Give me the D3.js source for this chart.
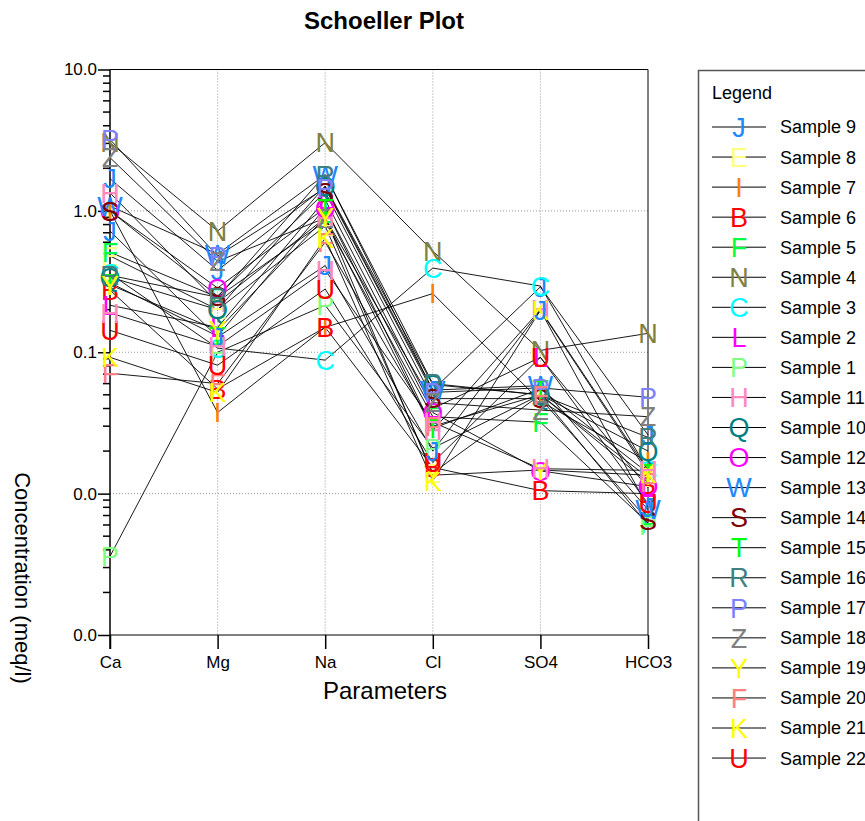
<!DOCTYPE html>
<html>
<head>
<meta charset="utf-8">
<script src="https://cdn.jsdelivr.net/npm/d3@7"></script>
<style>
	body { margin: 0; background: #fff; }
	text { font-family: 'Liberation Sans', Arial, sans-serif; }
</style>
</head>
<body>
<div id="chart"></div>
<script>
	'use strict';

	var params = ['Ca', 'Mg', 'Na', 'Cl', 'SO4', 'HCO3'];

	// samples in the order the legend lists them (last two have no legend row)
	var names = ['Sample 9', 'Sample 8', 'Sample 7', 'Sample 6', 'Sample 5', 'Sample 4',
		'Sample 3', 'Sample 2', 'Sample 1', 'Sample 11', 'Sample 10', 'Sample 12',
		'Sample 13', 'Sample 14', 'Sample 15', 'Sample 16', 'Sample 17', 'Sample 18',
		'Sample 19', 'Sample 20', 'Sample 21', 'Sample 22', 'Sample 23', 'Sample 24'];
	var letters = ['J', 'E', 'I', 'B', 'F', 'N', 'C', 'L', 'P', 'H', 'Q', 'O',
		'W', 'S', 'T', 'R', 'P', 'Z', 'Y', 'F', 'K', 'U', 'J', 'H'];
	var colors = ['#1e88ff', '#ffff80', '#ff8000', '#ff0000', '#00ff40', '#808040',
		'#00ffff', '#ff00ff', '#80ff80', '#ff88c0', '#008080', '#ff00ff',
		'#1e88ff', '#800000', '#00ff00', '#408080', '#8080ff', '#808080',
		'#ffff00', '#ff8080', '#ffff00', '#ff0000', '#1e88ff', '#ff88c0'];
	var legendCount = 22;

	// concentrations, meq/l, one value per sample
	var ca   = [1.69, 0.48, 1.0, 0.275, 0.51, 3.04, 0.36, 0.215, 0.0036, 1.34, 0.34, 1.0,
		1.08, 1.0, 0.31, 0.35, 3.2, 2.38, 0.3, 0.071, 0.092, 0.143, 0.72, 0.19];
	var mg   = [0.38, 0.2, 0.0375, 0.055, 0.245, 0.72, 0.107, 0.15, 0.1, 0.225, 0.2, 0.285,
		0.495, 0.25, 0.13, 0.245, 0.48, 0.44, 0.143, 0.06, 0.052, 0.081, 0.128, 0.11];
	var na   = [1.48, 0.78, 0.15, 0.15, 0.84, 3.04, 0.088, 1.2, 0.215, 0.89, 1.5, 1.05,
		1.8, 1.36, 1.05, 1.8, 1.45, 0.89, 0.9, 0.6, 0.64, 0.28, 0.41, 0.38];
	var cl   = [0.054, 0.014, 0.26, 0.0153, 0.035, 0.52, 0.394, 0.04, 0.021, 0.028, 0.059, 0.0375,
		0.054, 0.047, 0.029, 0.06, 0.052, 0.044, 0.0135, 0.03, 0.0123, 0.0166, 0.02, 0.032];
	var so4  = [0.29, 0.05, 0.045, 0.0105, 0.032, 0.103, 0.294, 0.092, 0.05, 0.2, 0.05, 0.0145,
		0.058, 0.047, 0.055, 0.05, 0.056, 0.039, 0.0147, 0.05, 0.198, 0.092, 0.198, 0.015];
	var hco3 = [0.026, 0.013, 0.0168, 0.01, 0.0062, 0.136, 0.0146, 0.011, 0.006, 0.0146, 0.02, 0.0112,
		0.0077, 0.0065, 0.014, 0.025, 0.048, 0.035, 0.0135, 0.012, 0.014, 0.0085, 0.008, 0.0146];

	var yTicks = [0.001, 0.01, 0.1, 1, 10];

	var width = 865;
	var height = 821;
	var plot = {left: 110, right: 648, top: 69.5, bottom: 635};
	var font = "'Liberation Sans', Arial, sans-serif";

	var columns = [ca, mg, na, cl, so4, hco3];
	var samples = names.map(function (n, i) {
		return {
			name: n,
			letter: letters[i],
			color: colors[i],
			values: columns.map(function (col, k) {
				return {param: params[k], val: col[i]};
			})
		};
	});

	var svg = d3.select('#chart')
		.append('svg')
		.attr('width', width)
		.attr('height', height);

	svg.append('rect')
		.attr('width', width)
		.attr('height', height)
		.attr('fill', '#fff');

	var x = d3.scalePoint()
		.domain(params)
		.range([plot.left, plot.right]);

	var y = d3.scaleLog()
		.domain([0.001, 10])
		.range([plot.bottom, plot.top]);

	// title
	svg.append('text')
		.text('Schoeller Plot')
		.attr('x', 384)
		.attr('y', 29)
		.attr('text-anchor', 'middle')
		.style('font-size', '24px')
		.style('font-weight', 'bold');

	// dotted grid
	var grid = svg.append('g');
	grid.selectAll('line.gy')
		.data(yTicks.slice(1, 4))
		.enter()
		.append('line')
		.attr('x1', plot.left)
		.attr('x2', plot.right)
		.attr('y1', function (d) { return y(d); })
		.attr('y2', function (d) { return y(d); })
		.attr('stroke', '#999')
		.attr('stroke-dasharray', '1,2');
	grid.selectAll('line.gx')
		.data(params.slice(1, 5))
		.enter()
		.append('line')
		.attr('x1', function (d) { return x(d); })
		.attr('x2', function (d) { return x(d); })
		.attr('y1', plot.top)
		.attr('y2', plot.bottom)
		.attr('stroke', '#999')
		.attr('stroke-dasharray', '1,2');

	// frame top and right
	svg.append('path')
		.attr('d', 'M' + plot.left + ',' + plot.top + 'H' + plot.right + 'V' + plot.bottom)
		.attr('fill', 'none')
		.attr('stroke', '#000');

	// y axis with minor ticks
	var minor = [];
	for (var e = -3; e < 1; e ++) {
		for (var m = 2; m < 10; m ++) {
			minor.push(m * Math.pow(10, e));
		}
	}
	var yAxis = d3.axisLeft(y)
		.tickValues(yTicks)
		.tickSize(12)
		.tickPadding(1)
		.tickFormat(function (d) { return d.toFixed(1); });
	var gy = svg.append('g')
		.attr('transform', 'translate(' + plot.left + ',0)')
		.call(yAxis);
	gy.select('.domain')
		.attr('d', 'M0,' + plot.top + 'V' + (plot.bottom + 14))
		.attr('stroke-width', 1.5);
	gy.selectAll('.tick line').attr('stroke-width', 1.5);
	gy.selectAll('.tick text')
		.style('font-size', '17px')
		.style('font-family', font);
	gy.selectAll('line.minor')
		.data(minor)
		.enter()
		.append('line')
		.attr('class', 'minor')
		.attr('x1', -7)
		.attr('x2', 0)
		.attr('y1', function (d) { return y(d); })
		.attr('y2', function (d) { return y(d); })
		.attr('stroke', '#000')
		.attr('stroke-width', 1.5);

	// x axis
	var xAxis = d3.axisBottom(x)
		.tickSize(14)
		.tickPadding(7);
	var gx = svg.append('g')
		.attr('transform', 'translate(0,' + plot.bottom + ')')
		.call(xAxis);
	gx.select('.domain').attr('d', 'M' + plot.left + ',0H' + plot.right);
	gx.selectAll('.tick line').attr('stroke-width', 1.5);
	gx.selectAll('.tick text')
		.style('font-size', '17px')
		.style('font-family', font);

	svg.append('text')
		.text('Parameters')
		.attr('x', 385)
		.attr('y', 699)
		.attr('text-anchor', 'middle')
		.style('font-size', '24px');

	svg.append('g')
		.attr('transform', 'translate(14.5,578),rotate(90)')
		.append('text')
		.text('Concentration (meq/l)')
		.attr('text-anchor', 'middle')
		.style('font-size', '22px');

	// sample lines
	var line = d3.line()
		.x(function (d) { return x(d.param); })
		.y(function (d) { return y(d.val); });

	svg.append('g')
		.selectAll('path')
		.data(samples)
		.enter()
		.append('path')
		.attr('d', function (d) { return line(d.values); })
		.attr('fill', 'none')
		.attr('stroke', '#000')
		.attr('stroke-width', 0.9);

	// letter markers
	var marks = svg.append('g')
		.selectAll('g.sample')
		.data(samples)
		.enter()
		.append('g')
		.attr('class', 'sample');

	marks.selectAll('text')
		.data(function (d) {
			return d.values.map(function (v) {
				return {param: v.param, val: v.val, letter: d.letter, color: d.color};
			});
		})
		.enter()
		.append('text')
		.text(function (d) { return d.letter; })
		.attr('x', function (d) { return x(d.param); })
		.attr('y', function (d) { return y(d.val); })
		.attr('dy', '0.36em')
		.attr('text-anchor', 'middle')
		.attr('fill', function (d) { return d.color; })
		.style('font-size', '27px');

	// legend
	var legend = svg.append('g');
	legend.append('rect')
		.attr('x', 698.5)
		.attr('y', 70.5)
		.attr('width', 200)
		.attr('height', 800)
		.attr('fill', '#fff')
		.attr('stroke', '#555')
		.attr('stroke-width', 1.5);
	legend.append('text')
		.text('Legend')
		.attr('x', 712)
		.attr('y', 99)
		.style('font-size', '18px');

	var rowH = 30.05;
	var row = legend.selectAll('g.row')
		.data(samples.slice(0, legendCount))
		.enter()
		.append('g')
		.attr('class', 'row')
		.attr('transform', function (d, i) {
			return 'translate(0,' + (127 + rowH * i) + ')';
		});
	row.append('line')
		.attr('x1', 712)
		.attr('x2', 766)
		.attr('stroke', '#000')
		.attr('stroke-width', 1);
	row.append('text')
		.text(function (d) { return d.letter; })
		.attr('x', 739)
		.attr('dy', '0.36em')
		.attr('text-anchor', 'middle')
		.attr('fill', function (d) { return d.color; })
		.style('font-size', '27px');
	row.append('text')
		.text(function (d) { return d.name; })
		.attr('x', 780)
		.attr('dy', '0.36em')
		.style('font-size', '18px');
</script>
</body>
</html>
